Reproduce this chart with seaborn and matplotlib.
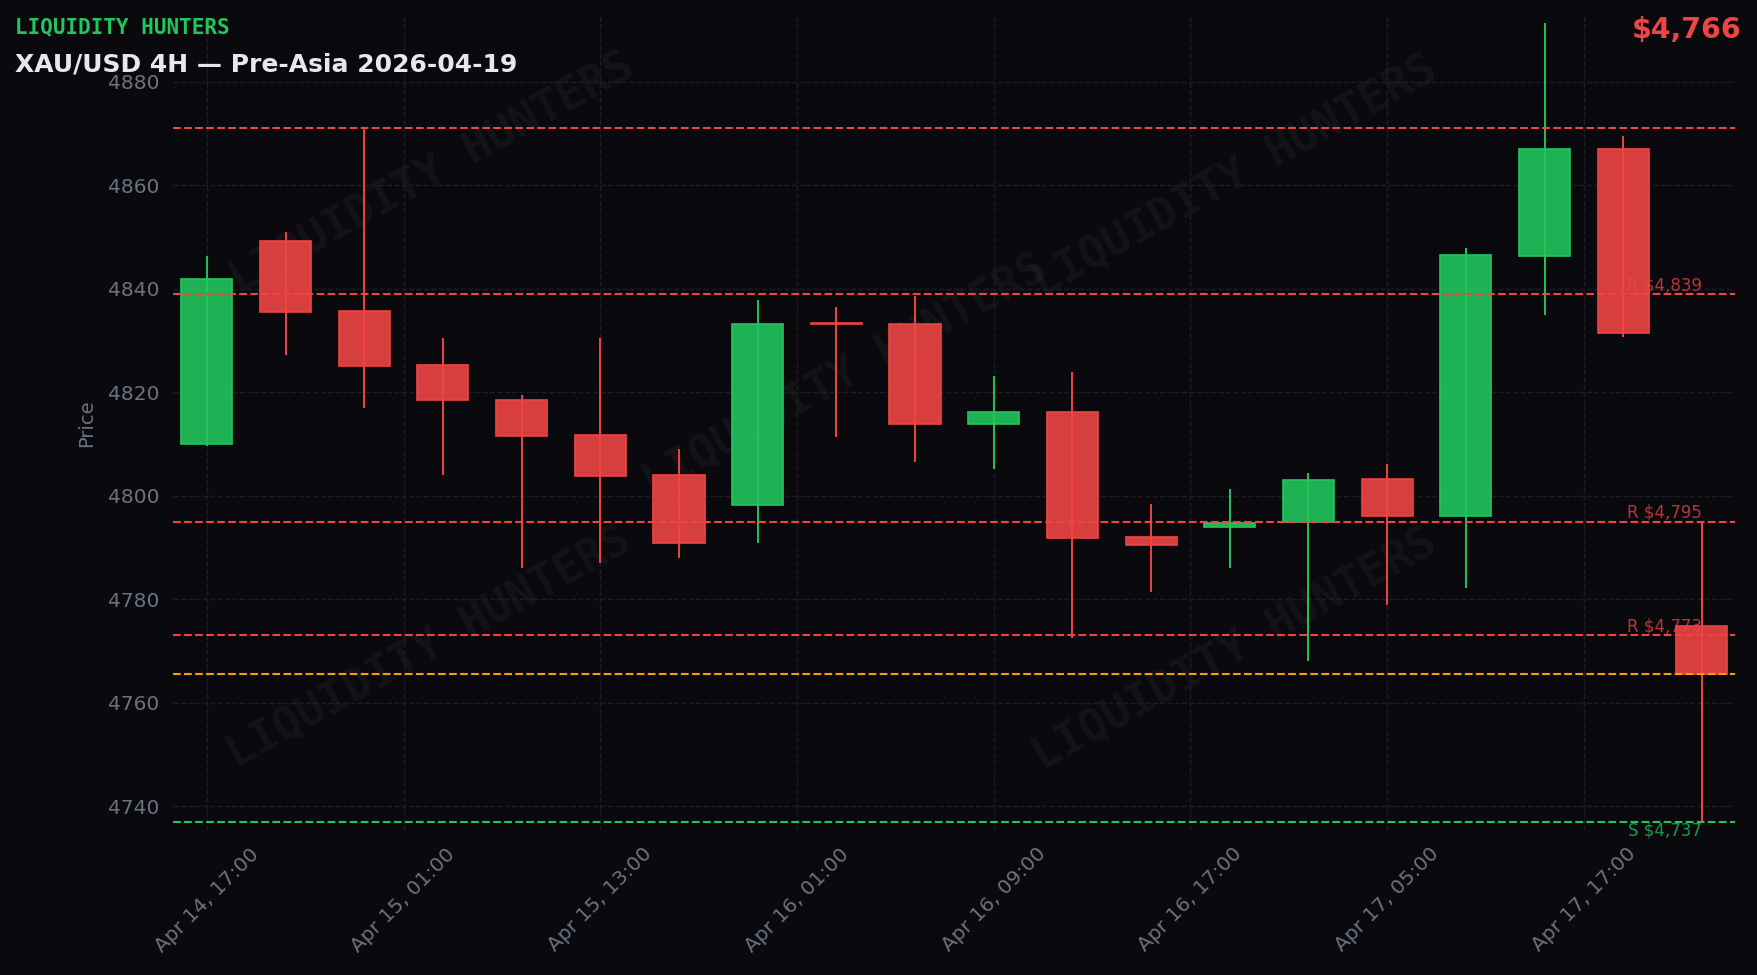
import numpy as np
import pandas as pd
import matplotlib
matplotlib.use("Agg")
import matplotlib.pyplot as plt
from matplotlib.colors import to_rgba
import seaborn as sns

# ---------------- data ----------------
opens = [4810.1, 4849.2, 4835.7, 4825.2, 4818.6, 4811.8, 4804.1, 4798.3, 4833.3, 4833.3,
         4813.8, 4816.2, 4792.0, 4793.9, 4795.0, 4803.2, 4796.0, 4846.4, 4867.1, 4774.9]
highs = [4846.4, 4850.9, 4871.0, 4830.5, 4819.4, 4830.5, 4809.0, 4837.8, 4836.5, 4838.6,
         4823.1, 4823.9, 4798.5, 4801.3, 4804.4, 4806.1, 4847.8, 4891.3, 4869.5, 4795.0]
lows = [4809.6, 4827.3, 4817.0, 4804.0, 4786.0, 4787.1, 4788.0, 4790.9, 4811.4, 4806.5,
        4805.1, 4772.5, 4781.4, 4786.0, 4768.0, 4778.9, 4782.2, 4835.0, 4830.7, 4737.2]
closes = [4841.9, 4835.5, 4825.0, 4818.6, 4811.6, 4803.9, 4790.8, 4833.3, 4833.2, 4813.8,
          4816.2, 4791.9, 4790.5, 4794.8, 4803.1, 4796.0, 4846.6, 4867.1, 4831.5, 4765.6]

tick_labels = ["Apr 14, 17:00", "Apr 15, 01:00", "Apr 15, 13:00", "Apr 16, 01:00",
               "Apr 16, 09:00", "Apr 16, 17:00", "Apr 17, 05:00", "Apr 17, 17:00"]
y_ticks = [4740, 4760, 4780, 4800, 4820, 4840, 4860, 4880]

res_levels = [4871, 4839, 4795, 4773]
res_labels = ["", "R $4,839", "R $4,795", "R $4,773"]
sup_levels = [4737]
sup_labels = ["S $4,737"]
current_price = 4765.6
price_text = "$4,766"
brand = "LIQUIDITY HUNTERS"
title = "XAU/USD 4H \u2014 Pre-Asia 2026-04-19"
watermark_pos = [(0.166, 0.806), (0.68, 0.803), (0.43, 0.558), (0.164, 0.225), (0.68, 0.222)]

# ---------------- style ----------------
BG = "#0a0a0e"
GREEN = "#22c55e"
RED = "#ef4444"
ORANGE = "#f59e0b"
GRAY = "#6b7280"
GRID = "#1d1d25"

sns.set_theme(style="dark", rc={
    "axes.facecolor": BG, "figure.facecolor": BG, "savefig.facecolor": BG,
    "axes.edgecolor": BG, "grid.color": GRID, "text.color": GRAY,
    "xtick.color": GRAY, "ytick.color": GRAY, "axes.labelcolor": GRAY,
})
plt.rcParams["font.family"] = ["DejaVu Sans"]

df = pd.DataFrame({"o": opens, "h": highs, "l": lows, "c": closes})
df["x"] = np.arange(len(df))
df["up"] = df["c"] >= df["o"]
df["col"] = np.where(df["up"], GREEN, RED)

fig = plt.figure(figsize=(17.58, 9.75), dpi=100)
ax = fig.add_axes([0.0984, 0.1482, 0.8885, 0.8357])
ax.set_facecolor(BG)

# watermarks
for fx, fy in watermark_pos:
    ax.text(fx, fy, brand, transform=ax.transAxes, rotation=29, ha="center", va="center",
            family="DejaVu Sans Mono", weight="bold", fontsize=32, color="white",
            alpha=0.045, zorder=0.5)

# wicks
ax.vlines(df["x"], df["l"], df["h"], colors=df["col"], linewidth=1.4, zorder=2)
# bodies
body_bottom = np.minimum(df["o"], df["c"])
body_height = np.maximum((df["c"] - df["o"]).abs(), 0.12)
ax.bar(df["x"], body_height, bottom=body_bottom, width=0.65,
       color=[to_rgba(c, 0.9) for c in df["col"]], edgecolor=df["col"],
       linewidth=1.2, zorder=3)

last_x = df["x"].iloc[-1]
# levels
for v, lab in zip(res_levels, res_labels):
    ax.axhline(v, color=RED, ls="--", lw=1.5, zorder=4)
    if lab:
        ax.text(last_x, v, lab, ha="right", va="bottom", fontsize=12, color=RED,
                alpha=0.75, zorder=5)
for v, lab in zip(sup_levels, sup_labels):
    ax.axhline(v, color=GREEN, ls="--", lw=1.5, zorder=4)
    ax.text(last_x, v, lab, ha="right", va="top", fontsize=12, color=GREEN,
            alpha=0.75, zorder=5)
ax.axhline(current_price, color=ORANGE, ls="--", lw=1.5, zorder=4)

# axes
ax.set_xlim(-0.43, 19.42)
ax.set_ylim(4735.3, 4892.8)
ax.set_xticks(np.arange(0, len(df), 2.5))
ax.set_xticklabels(tick_labels, rotation=45, ha="center")
ax.set_yticks(y_ticks)
ax.tick_params(axis="both", labelsize=14.5, colors=GRAY, length=4, width=1.2, pad=6)
ax.set_ylabel("Price", fontsize=14, color=GRAY, labelpad=8)
ax.set_xlabel("")
ax.grid(True, color=GRID, ls="--", lw=1.0, zorder=0)
sns.despine(ax=ax, left=True, bottom=True)

# header texts
fig.text(15 / 1758, 1 - 33 / 975, brand, family="DejaVu Sans Mono", weight="bold",
         fontsize=15, color=GREEN, va="baseline", ha="left")
fig.text(15 / 1758, 1 - 72 / 975, title, weight="bold", fontsize=18, color="#e8e8ea",
         va="baseline", ha="left")
fig.text(1742 / 1758, 1 - 37.5 / 975, price_text, weight="bold", fontsize=20.5, color=RED,
         va="baseline", ha="right")

fig.savefig("out.png", dpi=100, facecolor=BG)
